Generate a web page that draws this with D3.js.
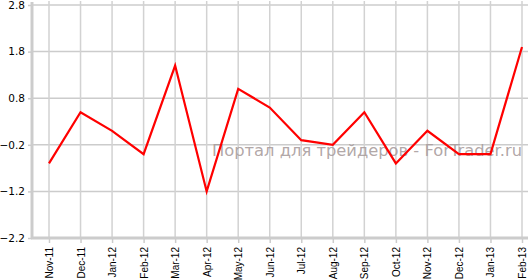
<!DOCTYPE html>
<html>
<head>
<meta charset="utf-8">
<script src="https://cdn.jsdelivr.net/npm/d3@7"></script>
<style>
  body { margin: 0; background: #fff; }
  svg { display: block; }
</style>
</head>
<body>
<div id="chart"></div>
<script>
// DATA
const months = ["Nov-11", "Dec-11", "Jan-12", "Feb-12", "Mar-12", "Apr-12", "May-12", "Jun-12",
  "Jul-12", "Aug-12", "Sep-12", "Oct-12", "Nov-12", "Dec-12", "Jan-13", "Feb-13"];
const values = [-0.6, 0.5, 0.1, -0.4, 1.5, -1.2, 1.0, 0.6, -0.1, -0.2, 0.5, -0.6, 0.1, -0.4, -0.4, 1.9];
const yTicks = [-2.2, -1.2, -0.2, 0.8, 1.8, 2.8];
const watermark = "Портал для трейдеров - ForTrader.ru";

const width = 528;
const height = 280;

const svg = d3
  .select("#chart")
  .append("svg")
  .attr("width", width)
  .attr("height", height);

// -----------------------------------------------------------------------------
// AXES & SCALES
// -----------------------------------------------------------------------------
const xScale = d3.scalePoint().domain(months).range([49, 522]);
const yScale = d3.scaleLinear().domain([-2.2, 2.8]).range([238, 5]);

// horizontal grid
svg
  .append("g")
  .selectAll("line")
  .data(yTicks)
  .enter()
  .append("line")
  .attr("x1", 32)
  .attr("x2", width)
  .attr("y1", d => yScale(d))
  .attr("y2", d => yScale(d))
  .attr("stroke", "#cccccc")
  .attr("stroke-width", 1.5);

// vertical grid
svg
  .append("g")
  .selectAll("line")
  .data(months)
  .enter()
  .append("line")
  .attr("x1", d => xScale(d))
  .attr("x2", d => xScale(d))
  .attr("y1", 1)
  .attr("y2", 238)
  .attr("stroke", "#d2d2d2")
  .attr("stroke-width", 1.5);

// Y-axis
const yAxis = svg
  .append("g")
  .attr("transform", "translate(32,0)")
  .call(d3.axisLeft(yScale).tickValues(yTicks).tickFormat(d3.format(".1f")).tickSizeOuter(0).tickSize(4).tickPadding(3));
yAxis.select(".domain").attr("stroke", "#cccccc").attr("stroke-width", 3).attr("d", "M0,2V239");
yAxis.selectAll(".tick line").attr("stroke", "#cccccc").attr("stroke-width", 1.5);
yAxis
  .selectAll(".tick text")
  .attr("fill", "#000")
  .style("font-family", "DejaVu Sans, Verdana, sans-serif")
  .style("font-size", "10.5px");

// X-axis
const xAxis = svg
  .append("g")
  .attr("transform", "translate(0,238)")
  .call(d3.axisBottom(xScale).tickSizeOuter(0).tickSize(5));
xAxis.select(".domain").attr("stroke", "#cccccc").attr("stroke-width", 3).attr("d", "M31,0H528");
xAxis.selectAll(".tick line").attr("stroke", "#cccccc").attr("stroke-width", 1.5);
xAxis
  .selectAll(".tick text")
  .attr("fill", "#000")
  .attr("transform", "rotate(-90)")
  .attr("text-anchor", "end")
  .attr("x", -9)
  .attr("y", 0)
  .attr("dy", "0.35em")
  .style("font-family", "Liberation Sans, Arial, sans-serif")
  .style("font-size", "10px");

// Watermark
svg
  .append("text")
  .attr("x", 522)
  .attr("y", 156)
  .attr("text-anchor", "end")
  .attr("textLength", 310)
  .attr("lengthAdjust", "spacingAndGlyphs")
  .style("font-family", "DejaVu Sans, sans-serif")
  .style("font-size", "16px")
  .attr("fill", "#a89c9c")
  .attr("fill-opacity", 0.9)
  .text(watermark);

// -----------------------------------------------------------------------------
// LINE
// -----------------------------------------------------------------------------
const line = d3
  .line()
  .x((d, i) => xScale(months[i]))
  .y(d => yScale(d));

svg
  .append("path")
  .datum(values)
  .attr("d", line)
  .attr("fill", "none")
  .attr("stroke", "#ff0000")
  .attr("stroke-width", 2.2)
  .attr("stroke-linejoin", "miter");
</script>
</body>
</html>
